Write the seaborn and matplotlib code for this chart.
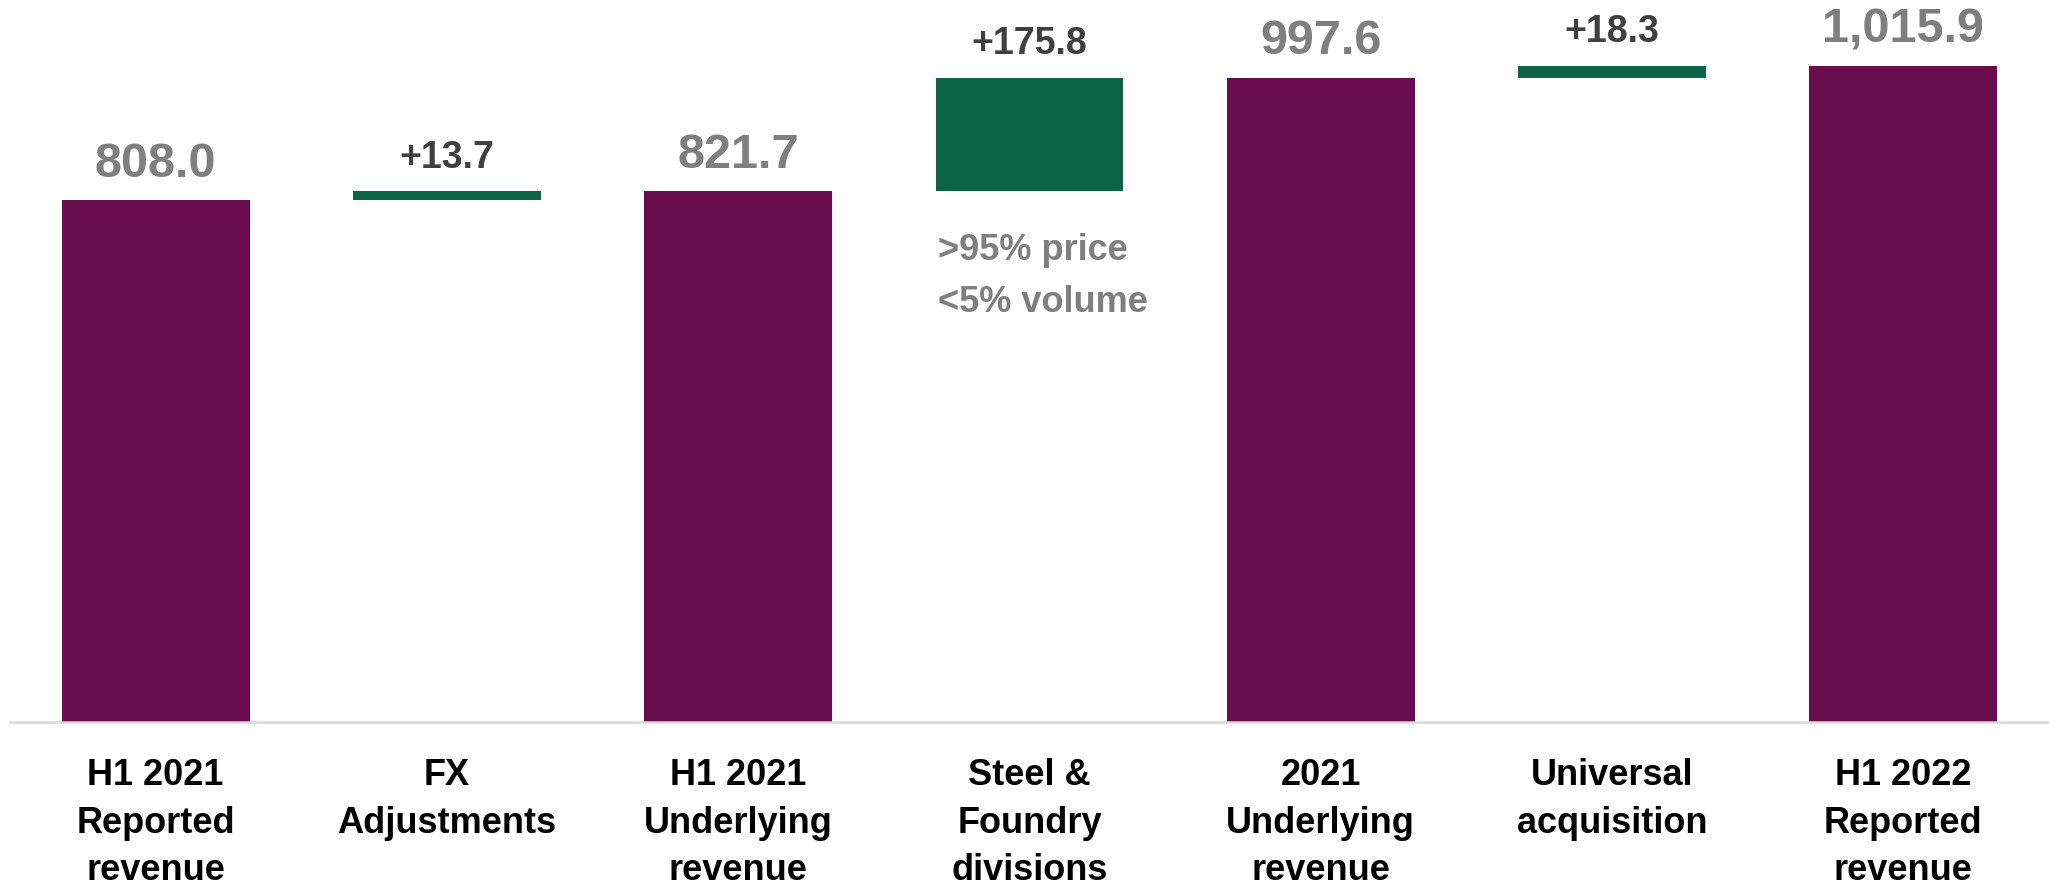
import numpy as np
import pandas as pd
import matplotlib
matplotlib.use("Agg")
import matplotlib.pyplot as plt
import seaborn as sns

# ---- data ----
categories = ["H1 2021\nReported\nrevenue", "FX\nAdjustments", "H1 2021\nUnderlying\nrevenue",
              "Steel &\nFoundry\ndivisions", "2021\nUnderlying\nrevenue", "Universal\nacquisition",
              "H1 2022\nReported\nrevenue"]
values = [808.0, 13.7, 821.7, 175.8, 997.6, 18.3, 1015.9]
kinds = ["total", "delta", "total", "delta", "total", "delta", "total"]
value_labels = ["808.0", "+13.7", "821.7", "+175.8", "997.6", "+18.3", "1,015.9"]
note_text = ">95% price\n<5% volume"
note_category = "Steel &\nFoundry\ndivisions"

# waterfall bases: a delta starts at the previous total
bases = []
running = 0.0
for v, k in zip(values, kinds):
    if k == "total":
        bases.append(0.0)
        running = v
    else:
        bases.append(running)
        running = running + v

df = pd.DataFrame({"category": categories, "value": values, "kind": kinds,
                   "base": bases, "label": value_labels})
df["top"] = df["base"] + df["value"]

PURPLE = "#6A0D4F"
GREEN = "#0B6446"

sns.set_theme(style="white")
plt.rcParams["font.family"] = ["Liberation Sans", "DejaVu Sans"]

fig = plt.figure(figsize=(20.49, 8.85), dpi=100)
ax = fig.add_axes([10 / 2049, 163 / 885, 2039 / 2049, 722 / 885])

tot = df[df["kind"] == "total"]
dl = df[df["kind"] == "delta"]
sns.barplot(data=tot, x="category", y="value", order=categories, color=PURPLE,
            saturation=1, width=0.645, linewidth=0, ax=ax)
sns.barplot(data=dl, x="category", y="value", order=categories, color=GREEN,
            saturation=1, width=0.645, linewidth=0, bottom=dl["base"].values, ax=ax)

ax.set_xlim(-0.5, len(categories) - 0.5)
ax.set_ylim(0, 1118)
ax.set_xlabel("")
ax.set_ylabel("")
ax.set_yticks([])
for s in ["top", "right", "left"]:
    ax.spines[s].set_visible(False)
ax.spines["bottom"].set_color("#D9D9D9")
ax.spines["bottom"].set_linewidth(1.8)
ax.spines["bottom"].set_zorder(5)

ax.tick_params(axis="x", length=0, pad=26)
ax.set_xticks(range(len(categories)))
ax.set_xticklabels(categories, fontsize=26, fontweight="bold", color="black",
                   linespacing=1.46, va="top")

# value labels
for i, row in df.reset_index(drop=True).iterrows():
    if row["kind"] == "total":
        ax.annotate(row["label"], (i, row["top"]), xytext=(0, 17), textcoords="offset points",
                    ha="center", va="baseline", fontsize=35, fontweight="bold",
                    color="#7F7F7F", clip_on=False, annotation_clip=False)
    else:
        ax.annotate(row["label"], (i, row["top"]), xytext=(0, 17), textcoords="offset points",
                    ha="center", va="baseline", fontsize=27, fontweight="bold",
                    color="#404040", clip_on=False, annotation_clip=False)

# note under the steel bar
ni = categories.index(note_category)
ax.annotate(note_text, (ni - 0.645 / 2, bases[ni]), xytext=(2, -87), textcoords="offset points",
            ha="left", va="baseline", fontsize=26, fontweight="bold", color="#7F7F7F",
            linespacing=1.62)

fig.savefig("out.png", dpi=100)
